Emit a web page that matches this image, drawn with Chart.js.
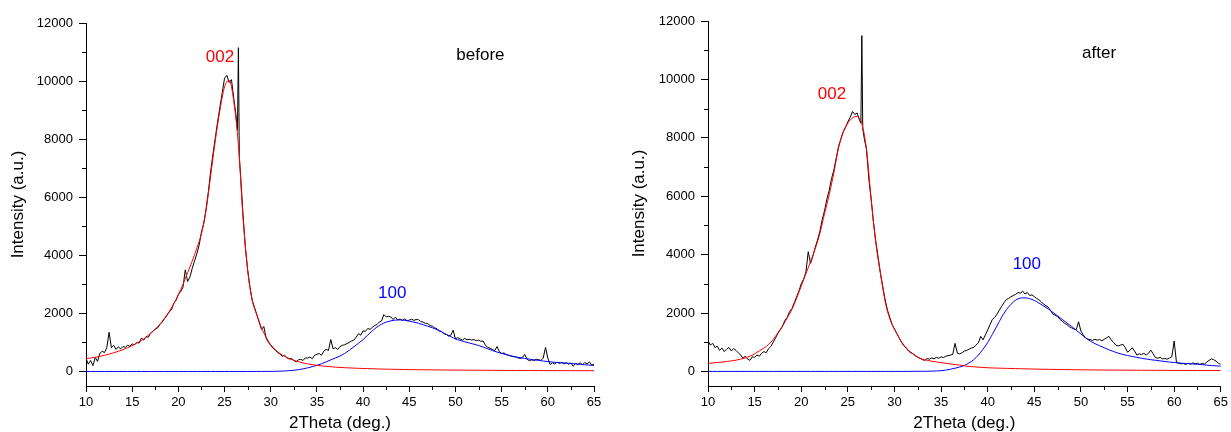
<!DOCTYPE html>
<html>
<head>
<meta charset="utf-8">
<script src="https://cdn.jsdelivr.net/npm/chart.js@4.4.0/dist/chart.umd.min.js"></script>
<style>
  html, body { margin: 0; padding: 0; background: #fff; }
  #wrap { position: relative; width: 1231px; height: 432px; }
  #before-box { position: absolute; left: 0; top: 0; width: 615px; height: 432px; }
  #after-box { position: absolute; left: 615px; top: 0; width: 616px; height: 432px; }
</style>
</head>
<body>
<div id="wrap">
  <div id="before-box"><canvas id="before-chart" width="615" height="432"></canvas></div>
  <div id="after-box"><canvas id="after-chart" width="616" height="432"></canvas></div>
</div>
<script>
// measured pattern, 2theta grid (deg.)
const twoTheta = [
  10, 10.25, 10.5, 10.75,  11, 11.25, 11.5, 11.75,  12, 12.25, 12.5, 12.75,
  13, 13.25, 13.5, 13.75,  14, 14.25, 14.5, 14.75,  15, 15.25, 15.5, 15.75,
  16, 16.25, 16.5, 16.75,  17, 17.25, 17.5, 17.75,  18, 18.25, 18.5, 18.75,
  19, 19.25, 19.5, 19.75,  20, 20.25, 20.5, 20.75,  21, 21.25, 21.5, 21.75,
  22, 22.25, 22.5, 22.75,  23, 23.25, 23.5, 23.75,  24, 24.25, 24.5, 24.75,
  25, 25.25, 25.5, 25.75,  26, 26.25, 26.4, 26.5, 26.6, 26.75,
  27, 27.25, 27.5, 27.75,  28, 28.25, 28.5, 28.75,  29, 29.25, 29.5, 29.75,
  30, 30.25, 30.5, 30.75,  31, 31.25, 31.5, 31.75,  32, 32.25, 32.5, 32.75,
  33, 33.25, 33.5, 33.75,  34, 34.25, 34.5, 34.75,  35, 35.25, 35.5, 35.75,
  36, 36.25, 36.5, 36.75,  37, 37.25, 37.5, 37.75,  38, 38.25, 38.5, 38.75,
  39, 39.25, 39.5, 39.75,  40, 40.25, 40.5, 40.75,  41, 41.25, 41.5, 41.75,
  42, 42.25, 42.5, 42.75,  43, 43.25, 43.5, 43.75,  44, 44.25, 44.5, 44.75,
  45, 45.25, 45.5, 45.75,  46, 46.25, 46.5, 46.75,  47, 47.25, 47.5, 47.75,
  48, 48.25, 48.5, 48.75,  49, 49.25, 49.5, 49.75,  50, 50.25, 50.5, 50.75,
  51, 51.25, 51.5, 51.75,  52, 52.25, 52.5, 52.75,  53, 53.25, 53.5, 53.75,
  54, 54.25, 54.5, 54.75,  55, 55.25, 55.5, 55.75,  56, 56.25, 56.5, 56.75,
  57, 57.25, 57.5, 57.75,  58, 58.25, 58.5, 58.75,  59, 59.25, 59.5, 59.75,
  60, 60.25, 60.5, 60.75,  61, 61.25, 61.5, 61.75,  62, 62.25, 62.5, 62.75,
  63, 63.25, 63.5, 63.75,  64, 64.25, 64.5, 64.75,  65
];

const beforeMeasured = [
  450, 250, 380, 200,  480, 350, 620, 700,  650, 820, 1350, 820,
  900, 760, 850, 780,  860, 830, 900, 870,  950, 920, 1000, 980,
  1150, 1080, 1200, 1180,  1330, 1380, 1460, 1500,  1620, 1700, 1820, 1920,
  2050, 2120, 2350, 2450,  2650, 2750, 2900, 3500,  3100, 3250, 3550, 3800,
  4050, 4350, 4800, 5100,  5600, 6200, 6900, 7500,  8050, 8600, 9100, 9600,
  10100, 10200, 9950, 10050,  9400, 8800, 8300, 11150, 7400, 6700,
  5400, 4300, 3500, 2900,  2450, 2200, 1950, 1700,  1450, 1550, 1150, 1000,
  900, 800, 740, 650,  600, 520, 560, 470,  430, 450, 380, 330,
  400, 420, 380, 470,  460, 500, 440, 560,  590, 620, 560, 700,
  760, 720, 1100, 780,  820, 760, 860, 900,  920, 960, 1000, 1050,
  1080, 1180, 1300, 1250,  1400, 1380, 1480, 1450,  1520, 1580, 1620, 1700,
  1740, 1960, 1880, 1900,  1880, 1790, 1870, 1780,  1800, 1760, 1810, 1750,
  1770, 1800, 1760, 1790,  1780, 1720, 1700, 1660,  1650, 1580, 1560, 1500,
  1480, 1400, 1380, 1300,  1280, 1220, 1250, 1420,  1120, 1170, 1120, 1080,
  1140, 1090, 1110, 1080,  1100, 1060, 1080, 1040,  1050, 900, 830, 800,
  760, 720, 860, 680,  620, 640, 580, 560,  530, 510, 500, 470,
  450, 480, 590, 420,  370, 400, 380, 420,  410, 380, 460, 830,
  460, 240, 300, 260,  320, 280, 310, 260,  300, 250, 290, 180,
  280, 240, 300, 230,  310, 260, 330, 220,  250
];

const afterMeasured = [
  1050, 900, 960, 820,  860, 720, 800, 680,  760, 820, 700, 780,
  720, 640, 560, 450,  520, 420, 380, 500,  480, 560, 520, 620,
  680, 640, 780, 860,  1000, 1150, 1300, 1420,  1550, 1750, 1850, 2050,
  2150, 2350, 2550, 2750,  3000, 3150, 3400, 4100,  3700, 3950, 4250, 4500,
  4800, 5200, 5500, 5900,  6200, 6600, 6900, 7300,  7700, 7950, 8200, 8350,
  8550, 8700, 8900, 8800,  8850, 8600, 8500, 11500, 8300, 8000,
  7600, 6600, 5900, 5100,  4450, 3900, 3350, 2900,  2450, 2100, 1850, 1600,
  1450, 1300, 1150, 1000,  880, 800, 700, 640,  600, 530, 480, 450,
  400, 380, 440, 420,  460, 430, 480, 450,  500, 470, 520, 540,
  560, 580, 960, 620,  600, 640, 700, 720,  760, 800, 820, 900,
  980, 1200, 1080, 1250,  1420, 1600, 1780, 1850,  1960, 2100, 2230, 2350,
  2460, 2500, 2560, 2600,  2640, 2700, 2680, 2750,  2650, 2700, 2600, 2620,
  2560, 2500, 2450, 2380,  2300, 2250, 2200, 2080,  1960, 1920, 1880, 1780,
  1720, 1650, 1600, 1530,  1490, 1450, 1430, 1700,  1380, 1250, 1150, 1100,
  1090, 1060, 1100, 1070,  1090, 1050, 1100, 1150,  1200, 1080, 990, 900,
  870, 900, 930, 820,  660, 720, 810, 700,  560, 600, 580, 620,
  560, 620, 730, 600,  470, 450, 480, 430,  440, 420, 460, 500,
  1040, 300, 280, 260,  270, 240, 280, 250,  290, 260, 280, 240,
  270, 250, 320, 380,  430, 400, 350, 280,  240
];

// fitted peaks, 0.5 deg grid
const fitTheta = [
  10, 10.5, 11, 11.5, 12, 12.5, 13, 13.5, 14, 14.5,
  15, 15.5, 16, 16.5, 17, 17.5, 18, 18.5, 19, 19.5,
  20, 20.5, 21, 21.5, 22, 22.5, 23, 23.5, 24, 24.5,
  25, 25.5, 26, 26.5, 27, 27.5, 28, 28.5, 29, 29.5,
  30, 30.5, 31, 31.5, 32, 32.5, 33, 33.5, 34, 34.5,
  35, 35.5, 36, 36.5, 37, 37.5, 38, 38.5, 39, 39.5,
  40, 40.5, 41, 41.5, 42, 42.5, 43, 43.5, 44, 44.5,
  45, 45.5, 46, 46.5, 47, 47.5, 48, 48.5, 49, 49.5,
  50, 50.5, 51, 51.5, 52, 52.5, 53, 53.5, 54, 54.5,
  55, 55.5, 56, 56.5, 57, 57.5, 58, 58.5, 59, 59.5,
  60, 60.5, 61, 61.5, 62, 62.5, 63, 63.5, 64, 64.5,
  65
];

const before002 = [
  440, 465, 490, 520, 555, 600, 645, 695, 750, 815,
  890, 975, 1070, 1180, 1310, 1460, 1630, 1830, 2060, 2330,
  2650, 3000, 3400, 3800, 4250, 4750, 5550, 6750, 7950, 9000,
  9800, 10030, 9300, 7800, 5300, 3500, 2450, 1950, 1500, 1180,
  920, 750, 620, 520, 445, 385, 335, 295, 262, 235,
  212, 193, 177, 163, 151, 140, 131, 123, 116, 109,
  103, 98, 93, 88, 84, 80, 77, 74, 71, 68,
  66, 63, 61, 59, 57, 55, 54, 52, 51, 49,
  48, 47, 45, 44, 43, 42, 41, 40, 39, 38,
  37, 36, 36, 35, 34, 33, 33, 32, 32, 31,
  31, 30, 30, 29, 29, 28, 28, 28, 27, 27,
  27
];

const before100 = [
  0, 0, 0, 0, 0, 0, 0, 0, 0, 0,
  0, 0, 0, 0, 0, 0, 0, 0, 0, 0,
  0, 0, 0, 0, 0, 0, 0, 0, 0, 0,
  0, 0, 0, 0, 0, 0, 1, 1, 2, 3,
  4, 7, 11, 18, 28, 42, 62, 90, 125, 165,
  210, 265, 330, 400, 465, 530, 620, 730, 850, 970,
  1100, 1250, 1400, 1530, 1630, 1700, 1745, 1770, 1775, 1760,
  1735, 1700, 1660, 1610, 1560, 1505, 1440, 1360, 1280, 1200,
  1120, 1070, 1025, 980, 940, 895, 840, 780, 720, 670,
  620, 580, 540, 505, 475, 450, 425, 400, 380, 360,
  340, 325, 310, 300, 290, 280, 260, 245, 230, 220,
  210
];

const after002 = [
  275, 290, 305, 320, 340, 360, 385, 420, 460, 520,
  600, 700, 800, 920, 1100, 1320, 1560, 1830, 2120, 2500,
  2920, 3340, 3760, 4200, 4720, 5400, 6050, 6800, 7650, 8200,
  8500, 8680, 8730, 8480, 7600, 5900, 4400, 3350, 2400, 1800,
  1450, 1150, 900, 730, 600, 490, 420, 380, 350, 325,
  300, 277, 255, 235, 215, 190, 172, 158, 146, 135,
  125, 119, 113, 108, 104, 100, 96, 92, 88, 84,
  80, 77, 74, 71, 68, 66, 63, 61, 59, 57,
  55, 53, 52, 50, 49, 47, 46, 45, 44, 43,
  42, 41, 40, 39, 38, 37, 36, 36, 35, 34,
  34, 33, 33, 32, 32, 31, 31, 30, 30, 30,
  29
];

const after100 = [
  0, 0, 0, 0, 0, 0, 0, 0, 0, 0,
  0, 0, 0, 0, 0, 0, 0, 0, 0, 0,
  0, 0, 0, 0, 0, 0, 0, 0, 0, 0,
  0, 0, 0, 0, 0, 0, 0, 0, 0, 0,
  0, 0, 0, 1, 2, 3, 4, 6, 9, 14,
  25, 45, 75, 110, 150, 205, 290, 400, 560, 760,
  990, 1270, 1560, 1860, 2110, 2300, 2440, 2510, 2520, 2490,
  2430, 2340, 2240, 2140, 2020, 1900, 1780, 1660, 1540, 1410,
  1280, 1150, 1040, 950, 880, 810, 740, 680, 625, 580,
  545, 510, 480, 450, 425, 400, 380, 360, 340, 320,
  305, 290, 275, 265, 255, 245, 230, 215, 200, 190,
  180
];

const intensityTicks = [0, 2000, 4000, 6000, 8000, 10000, 12000];
const intensityMinor = [1000, 3000, 5000, 7000, 9000, 11000];
const thetaMinor = [12.5, 17.5, 22.5, 27.5, 32.5, 37.5, 42.5, 47.5, 52.5, 57.5, 62.5];

const FONT = '"Liberation Sans", Arial, sans-serif';

function pairs(xs, ys) {
  return xs.map((x, i) => ({ x, y: ys[i] }));
}

// short minor ticks on both axes
const minorTicks = {
  id: 'minorTicks',
  afterDraw(chart) {
    const { ctx, scales: { x, y } } = chart;
    ctx.save();
    ctx.strokeStyle = '#000';
    ctx.lineWidth = 1;
    ctx.beginPath();
    thetaMinor.forEach(v => {
      const px = Math.round(x.getPixelForValue(v)) + 0.5;
      ctx.moveTo(px, x.top);
      ctx.lineTo(px, x.top + 4);
    });
    intensityMinor.forEach(v => {
      const py = Math.round(y.getPixelForValue(v)) + 0.5;
      ctx.moveTo(y.right, py);
      ctx.lineTo(y.right - 4, py);
    });
    ctx.stroke();
    ctx.restore();
  }
};

function notesPlugin(items) {
  return {
    id: 'notes',
    afterDatasetsDraw(chart) {
      const { ctx, scales: { x, y } } = chart;
      ctx.save();
      ctx.font = '17px ' + FONT;
      ctx.textAlign = 'center';
      ctx.textBaseline = 'middle';
      items.forEach(n => {
        ctx.fillStyle = n.color;
        ctx.fillText(n.text, x.getPixelForValue(n.x), y.getPixelForValue(n.y));
      });
      ctx.restore();
    }
  };
}

function drawPanel(id, measured, peak002, peak100, notes, box) {
  new Chart(document.getElementById(id), {
    type: 'line',
    data: {
      datasets: [
        { data: pairs(twoTheta, measured), borderColor: '#000', borderWidth: 1, pointRadius: 0, tension: 0, order: 3 },
        { data: pairs(fitTheta, peak002), borderColor: '#ff0000', borderWidth: 1, pointRadius: 0, cubicInterpolationMode: 'monotone', order: 1 },
        { data: pairs(fitTheta, peak100), borderColor: '#0000ff', borderWidth: 1, pointRadius: 0, cubicInterpolationMode: 'monotone', order: 2 }
      ]
    },
    options: {
      responsive: false,
      animation: false,
      devicePixelRatio: 1,
      layout: { padding: { left: 0, top: box.top, right: box.right, bottom: 0 } },
      plugins: { legend: { display: false }, tooltip: { enabled: false } },
      scales: {
        x: {
          type: 'linear', min: 10, max: 65,
          afterFit: s => { s.height = 46; },
          border: { display: true, color: '#000', width: 1 },
          grid: { drawOnChartArea: false, drawTicks: true, tickLength: 6, color: '#000' },
          ticks: { stepSize: 5, color: '#000', padding: 3, maxRotation: 0, autoSkip: false,
                   font: { family: FONT, size: 13 }, callback: v => String(v) },
          title: { display: true, text: '2Theta (deg.)', color: '#000', padding: 0,
                   font: { family: FONT, size: 17, lineHeight: 1 } }
        },
        y: {
          type: 'linear', min: -500, max: 12000,
          afterBuildTicks: s => { s.ticks = intensityTicks.map(v => ({ value: v })); },
          afterFit: s => { s.width = box.left; },
          border: { display: true, color: '#000', width: 1 },
          grid: { drawOnChartArea: false, drawTicks: true, tickLength: 7, color: '#000' },
          ticks: { color: '#000', padding: 6, font: { family: FONT, size: 13 }, callback: v => String(v) },
          title: { display: true, text: 'Intensity (a.u.)', color: '#000', padding: { top: box.titlePad, bottom: 0 },
                   font: { family: FONT, size: 17, lineHeight: 1 } }
        }
      }
    },
    plugins: [minorTicks, notesPlugin(notes)]
  });
}

document.addEventListener('DOMContentLoaded', () => {
  drawPanel('before-chart', beforeMeasured, before002, before100, [
    { text: '002', x: 24.5, y: 10830, color: '#ff0000' },
    { text: 'before', x: 52.7, y: 10900, color: '#000' },
    { text: '100', x: 43.15, y: 2680, color: '#0000ff' }
  ], { left: 86, top: 23, right: 21, titlePad: 10 });

  drawPanel('after-chart', afterMeasured, after002, after100, [
    { text: '002', x: 23.3, y: 9480, color: '#ff0000' },
    { text: 'after', x: 51.95, y: 10900, color: '#000' },
    { text: '100', x: 44.2, y: 3670, color: '#0000ff' }
  ], { left: 93, top: 21, right: 9, titlePad: 16 });
});
</script>
</body>
</html>
